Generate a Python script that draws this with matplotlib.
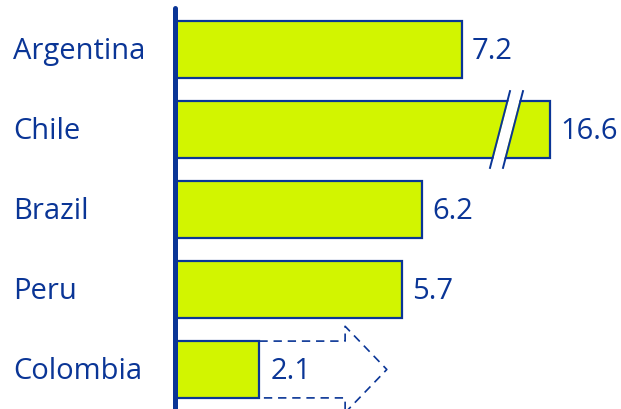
import matplotlib.pyplot as plt
from matplotlib.patches import Polygon
import numpy as np

# data
countries = ["Argentina", "Chile", "Brazil", "Peru", "Colombia"]
values = [7.2, 16.6, 6.2, 5.7, 2.1]
value_labels = ["7.2", "16.6", "6.2", "5.7", "2.1"]

# styling
fill = "#d2f500"
navy = "#0a3596"
font = "Open Sans"
fs = 21
cap = 9.42          # where the long bar is cut off
bar_h = 0.71
ty = 0.03           # nudge text down a touch

px = 39.7  # pixels per unit
fig = plt.figure(figsize=(6.21, 4.09), dpi=100)
ax = fig.add_axes([0, 0, 1, 1])
ax.set_xlim(-176 / px, (621 - 176) / px)
ax.set_ylim((409 - 49.5) / 80, -49.5 / 80)
ax.axis("off")

y = np.arange(len(countries))
shown = [min(v, cap) for v in values]
ax.barh(y, shown, height=bar_h, color=fill, edgecolor=navy, linewidth=1.6, zorder=2)

for i, (c, v, s) in enumerate(zip(countries, values, shown)):
    ax.text(-4.11, i + ty, c, ha="left", va="center", color=navy, fontsize=fs, family=font)
    if c == "Colombia":
        continue
    ax.text(s + 0.25, i + ty, value_labels[i], ha="left", va="center",
            color=navy, fontsize=fs, family=font)

# break marks on the capped bar
i = values.index(max(values))
dy = 0.48
for x0 in [(490 - 176) / px, (503 - 176) / px]:
    ax.plot([x0, x0 + 20 / px], [i + dy, i - dy], color=navy, lw=1.4, zorder=4)
gap = Polygon([[(491 - 176) / px, i + dy], [(511 - 176) / px, i - dy],
               [(522 - 176) / px, i - dy], [(502 - 176) / px, i + dy]],
              closed=True, facecolor="white", edgecolor="none", zorder=3)
ax.add_patch(gap)

# dashed arrow ahead of the last bar
i = 4
v = values[i]
half = bar_h / 2
shaft_end = 4.26
tip = 5.31
head = 0.54
arrow = [[v, i - half], [shaft_end, i - half], [shaft_end, i - head], [tip, i],
         [shaft_end, i + head], [shaft_end, i + half], [v, i + half]]
xs, ys = zip(*arrow)
ax.plot(xs, ys, color=navy, lw=1.2, ls=(0, (5, 3.5)), zorder=1)
ax.text(v + 0.28, i + ty, value_labels[i], ha="left", va="center",
        color=navy, fontsize=fs, family=font)

# vertical axis line
ax.plot([-1.5 / px, -1.5 / px], [-41.5 / 80, 5], color=navy, lw=3.6,
        solid_capstyle="round", zorder=5)

fig.savefig("out.png", dpi=100)
